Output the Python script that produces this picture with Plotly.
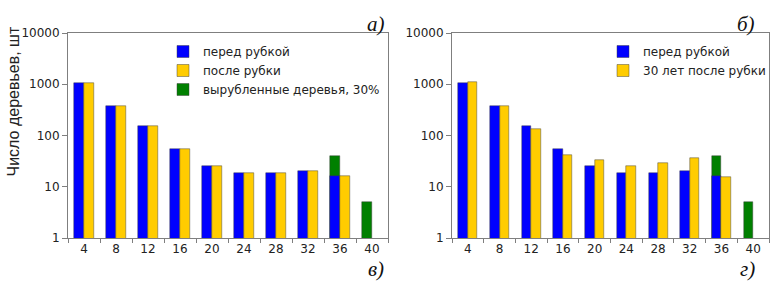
import plotly.graph_objects as go

categories = ["4", "8", "12", "16", "20", "24", "28", "32", "36", "40"]
before_cut = [1050, 385, 150, 54, 25.5, 18.5, 18.5, 20.5, 16, None]
after_cut = [1050, 385, 150, 54, 25.5, 18.5, 18.5, 20.5, 16.2, None]
after_30y = [1100, 385, 132, 42.5, 33.5, 25.5, 29, 36, 15.2, None]
cut_cats = ["36", "40"]
cut_trees = [40, 5.1]

tick_vals = [1, 10, 100, 1000, 10000]
tick_text = ["1", "10", "100", "1000", "10000"]

BLUE = "#0000FF"
YELLOW = "#FFCC00"
GREEN = "#008000"
EDGE = "rgba(60,60,60,0.9)"
FONT = "DejaVu Sans"

fig = go.Figure()

def add_panel(xa, ya, after_vals, after_name, legend):
    fig.add_trace(go.Bar(x=cut_cats, y=cut_trees, name="вырубленные деревья, 30%",
                         marker=dict(color=GREEN, line=dict(color=EDGE, width=0.5)),
                         width=0.3, offset=-0.3, xaxis=xa, yaxis=ya,
                         legend=legend, legendrank=3,
                         showlegend=(legend == "legend")))
    fig.add_trace(go.Bar(x=categories, y=before_cut, name="перед рубкой",
                         marker=dict(color=BLUE, line=dict(color=EDGE, width=0.5)),
                         width=0.3, offset=-0.3, xaxis=xa, yaxis=ya,
                         legend=legend, legendrank=1))
    fig.add_trace(go.Bar(x=categories, y=after_vals, name=after_name,
                         marker=dict(color=YELLOW, line=dict(color=EDGE, width=0.5)),
                         width=0.3, offset=0, xaxis=xa, yaxis=ya,
                         legend=legend, legendrank=2))

add_panel("x", "y", after_cut, "после рубки", "legend")
add_panel("x2", "y2", after_30y, "30 лет после рубки", "legend2")

W, H = 771, 297
ydom = [1 - 238 / H, 1 - 33 / H]
axis_common = dict(showline=True, linecolor="#7f7f7f", linewidth=1, mirror=True,
                   showgrid=False, zeroline=False, ticks="outside", automargin=False,
                   tickcolor="#7f7f7f", tickfont=dict(family=FONT, size=12, color="#222"))
xcat = dict(type="category", categoryorder="array", categoryarray=categories,
            tickson="boundaries", ticklen=4)
ylog = dict(type="log", range=[0, 4], tickvals=tick_vals, ticktext=tick_text, ticklen=5)
leg_common = dict(yanchor="top", xanchor="left", bgcolor="rgba(0,0,0,0)",
                  font=dict(family=FONT, size=12, color="#222"),
                  itemwidth=30, tracegroupgap=0)

fig.update_layout(
    width=W, height=H, margin=dict(l=0, r=0, t=0, b=0, autoexpand=False),
    paper_bgcolor="white", plot_bgcolor="white",
    barmode="overlay", bargap=0,
    font=dict(family=FONT, size=12, color="#222"),
    xaxis=dict(domain=[68 / W, 388 / W], anchor="y", **xcat, **axis_common),
    yaxis=dict(domain=ydom, anchor="x", **ylog, **axis_common),
    xaxis2=dict(domain=[452 / W, 769 / W], anchor="y2", **xcat, **axis_common),
    yaxis2=dict(domain=ydom, anchor="x2", **ylog, **axis_common),
    legend=dict(x=163 / W, y=1 - 37 / H, **leg_common),
    legend2=dict(x=603 / W, y=1 - 37 / H, **leg_common),
)

fig.add_annotation(text="Число деревьев, шт", textangle=-90, x=2 / W, y=1 - 102 / H,
                   xref="paper", yref="paper", xanchor="left", showarrow=False,
                   font=dict(family="Liberation Sans", size=16, color="#222"))

labels = [("а)", 376, 10), ("б)", 757, 10), ("в)", 376, 283), ("г)", 757, 283)]
for txt, px, py in labels:
    fig.add_annotation(text=txt, x=px / W, y=1 - py / H, xref="paper", yref="paper",
                       showarrow=False,
                       font=dict(family="Liberation Serif", size=21, color="#111", style="italic"))

fig.write_html("out.html", config={"displayModeBar": False},
               post_script="document.body.style.margin='0';document.body.style.overflow='hidden';")
